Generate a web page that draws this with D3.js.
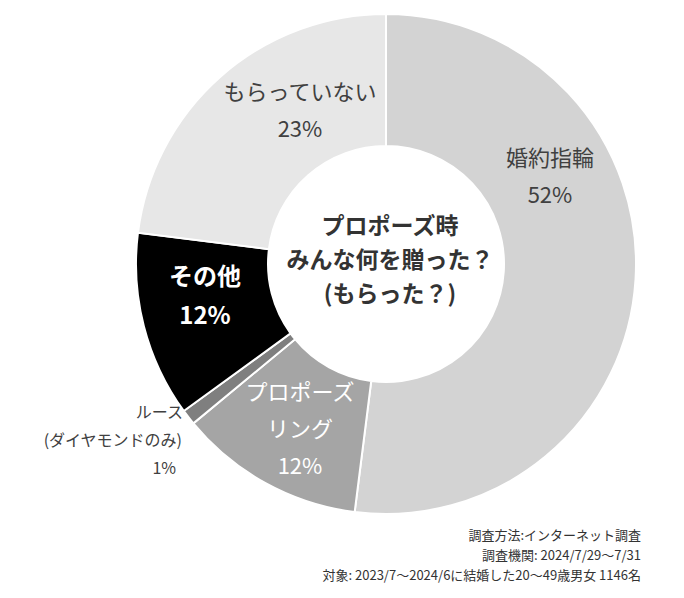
<!DOCTYPE html>
<html><head><meta charset="utf-8">
<script src="https://cdn.jsdelivr.net/npm/d3@7"></script>
<style>body{margin:0;background:#fff}text{font-family:"Noto Sans CJK JP","Noto Sans",sans-serif}</style>
</head><body>
<svg id="chart" width="684" height="598"></svg>
<script>
// values, clockwise from 12 o'clock
const categories = ["婚約指輪", "プロポーズリング", "ルース(ダイヤモンドのみ)", "その他", "もらっていない"];
const shares = [52, 12, 1, 12, 23];
const fills = ["#d3d3d3", "#a5a5a5", "#7f7f7f", "#000000", "#e7e7e7"];
const notes = ["調査方法:インターネット調査", "調査機関: 2024/7/29～7/31", "対象: 2023/7～2024/6に結婚した20～49歳男女 1146名"];

const svg = d3.select("#chart");
const cx = 386, cy = 264, outerR = 250, innerR = 118;

const pie = d3.pie().sort(null).value(d => d);
const arc = d3.arc().innerRadius(innerR).outerRadius(outerR);
const arcs = pie(shares);

const g = svg.append("g").attr("transform", `translate(${cx},${cy})`);
g.selectAll("path").data(arcs).join("path")
  .attr("d", arc)
  .attr("fill", (d, i) => fills[i])
  .attr("stroke", "#fff").attr("stroke-width", 2);

// label placement: [category index, lines, dx, dy from centre, size, colour, weight, anchor]
const labels = [
  [0, ["婚約指輪", shares[0] + "%"], 164, -98, 22, "#404040", "normal", "middle"],
  [4, ["もらっていない", shares[4] + "%"], -86, -164, 22, "#404040", "normal", "middle"],
  [3, ["その他", shares[3] + "%"], -181, 21, 24, "#fff", "bold", "middle"],
  [1, ["プロポーズ", "リング", shares[1] + "%"], -86, 136, 22, "#fff", "normal", "middle"]
];
labels.forEach(([i, lines, dx, dy, size, col, w, anchor]) => {
  const t = g.append("text").attr("text-anchor", anchor).attr("fill", col)
    .attr("font-size", size).attr("font-weight", w);
  lines.forEach((s, k) => t.append("tspan").attr("x", dx).attr("y", dy + k * (size + 15)).text(s));
});

// small slice labelled outside the ring
const loose = g.append("text").attr("fill", "#404040").attr("font-size", 16).attr("text-anchor", "end");
[["ルース", -203, 154], ["(ダイヤモンドのみ)", -204, 182], [shares[2] + "%", -210, 210]]
  .forEach(([s, x, y]) => loose.append("tspan").attr("x", x).attr("y", y).text(s));

// centre title
const title = g.append("text").attr("text-anchor", "middle").attr("fill", "#333")
  .attr("font-size", 23).attr("font-weight", "bold");
["プロポーズ時", "みんな何を贈った？", "(もらった？)"].forEach((s, k) =>
  title.append("tspan").attr("x", 4).attr("y", -30 + k * 34).text(s));

svg.append("g").selectAll("text").data(notes).join("text")
  .attr("x", 641).attr("y", (d, i) => 540 + i * 20)
  .attr("text-anchor", "end").attr("font-size", 13).attr("fill", "#333")
  .text(d => d);
</script>
</body></html>
